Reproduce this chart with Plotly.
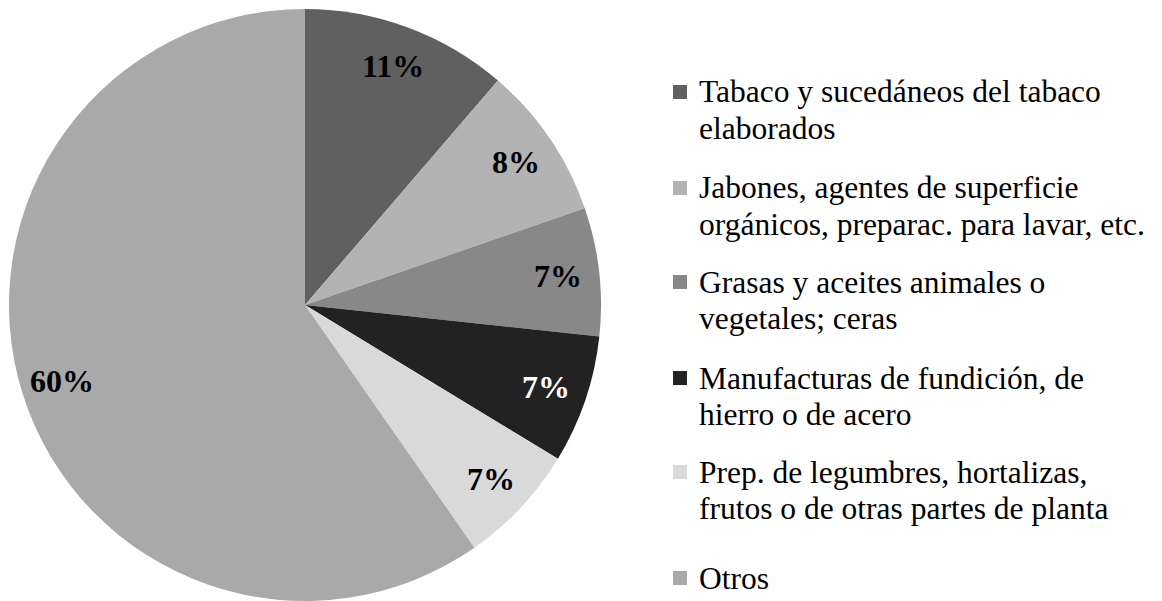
import math
import plotly.graph_objects as go

legend_lines = [
    ["Tabaco y sucedáneos del tabaco", "elaborados"],
    ["Jabones, agentes de superficie", "orgánicos, preparac. para lavar, etc."],
    ["Grasas y aceites animales o", "vegetales; ceras"],
    ["Manufacturas de fundición, de", "hierro o de acero"],
    ["Prep. de legumbres, hortalizas,", "frutos o de otras partes de planta"],
    ["Otros"],
]
labels = [" ".join(l) for l in legend_lines]
values = [11.3, 8.4, 7.0, 7.0, 6.6, 59.7]
colors = ["#606060", "#b3b3b3", "#888888", "#222222", "#d9d9d9", "#a9a9a9"]
text_colors = ["black", "black", "black", "white", "black", "black"]

FONT = "Liberation Serif"
W, H = 1162, 601

# pie geometry (pixels)
CX, CY, R = 305, 305, 296
dom_x = [(CX - R) / W, (CX + R) / W]
dom_y = [1 - (CY + R) / H, 1 - (CY - R) / H]

fig = go.Figure()
fig.add_trace(go.Pie(
    labels=labels,
    values=values,
    sort=False,
    direction="clockwise",
    rotation=0,
    marker=dict(colors=colors, line=dict(width=0)),
    textinfo="none",
    showlegend=False,
    domain=dict(x=dom_x, y=dom_y),
    hoverinfo="label+percent",
))

# percentage labels along each slice's mid-angle
total = sum(values)
cum = 0.0
for v, tc in zip(values, text_colors):
    mid = (cum + v / 2) / total * 2 * math.pi
    cum += v
    rr = 0.86 * R
    px = CX + rr * math.sin(mid)
    py = CY - rr * math.cos(mid)
    fig.add_annotation(
        x=px / W, y=1 - py / H, xref="paper", yref="paper",
        text=f"<b>{round(v / total * 100):.0f}%</b>", showarrow=False,
        font=dict(family=FONT, size=32, color=tc),
        xanchor="center", yanchor="middle",
    )

# legend drawn as squares and text lines
entry_y = [92, 188, 282, 378, 472, 578]
LINE = 36
MX0, MX1, TX = 673, 687, 697
for lines, col, y0 in zip(legend_lines, colors, entry_y):
    fig.add_shape(
        type="rect", xref="paper", yref="paper",
        x0=MX0 / W, x1=MX1 / W,
        y0=1 - (y0 - 7) / H, y1=1 - (y0 + 7) / H,
        fillcolor=col, line=dict(width=0),
    )
    for k, t in enumerate(lines):
        fig.add_annotation(
            x=TX / W, y=1 - (y0 + k * LINE) / H, xref="paper", yref="paper",
            text=t, showarrow=False, xanchor="left", yanchor="middle",
            font=dict(family=FONT, size=31.5, color="black"),
        )

fig.update_layout(
    width=W, height=H,
    margin=dict(l=0, r=0, t=0, b=0),
    paper_bgcolor="white", plot_bgcolor="white",
    font=dict(family=FONT, size=26, color="black"),
    showlegend=False,
)

fig.write_html("out.html")
